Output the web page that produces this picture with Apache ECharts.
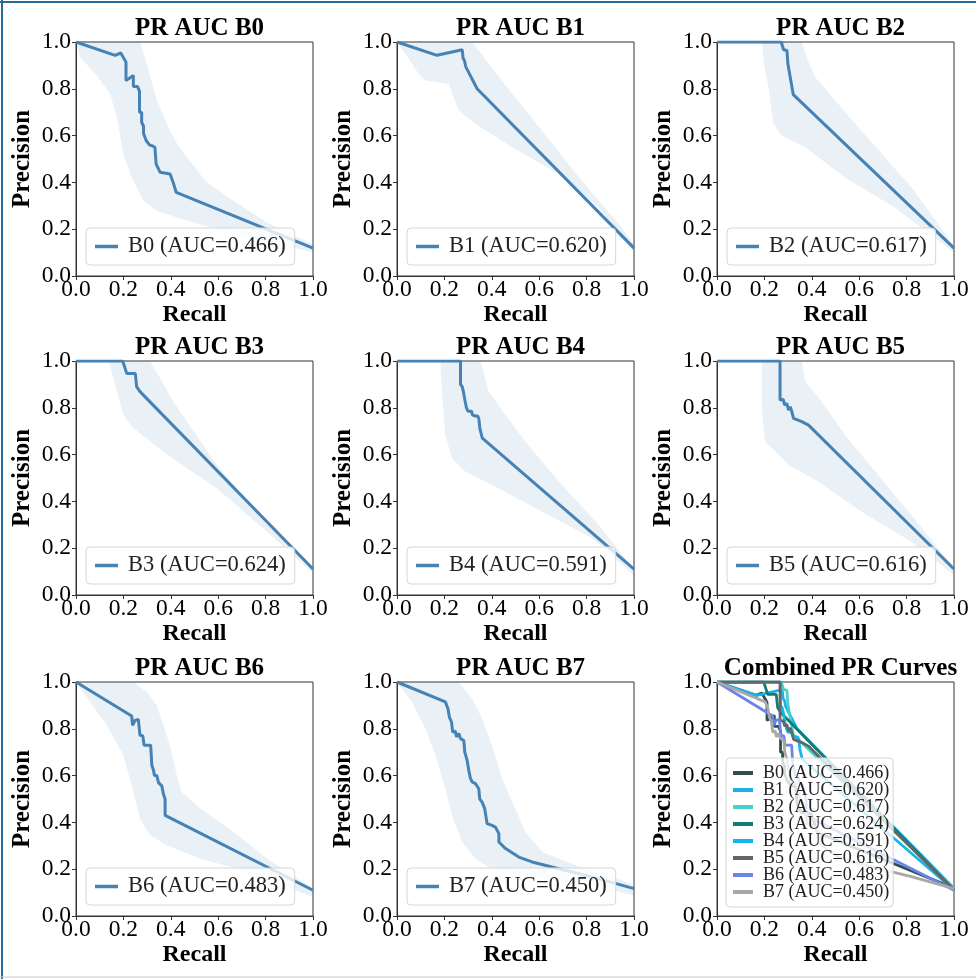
<!DOCTYPE html>
<html>
<head>
<meta charset="utf-8">
<script src="https://cdn.jsdelivr.net/npm/echarts@6/dist/echarts.min.js"></script>
<style>
html,body{margin:0;padding:0;background:#fff;}
#chart{width:976px;height:979px;}
</style>
</head>
<body>
<div id="chart"></div>
<script>
// ---------------- data ----------------
const modelNames = ['B0','B1','B2','B3','B4','B5','B6','B7'];
const aucValues = ['0.466','0.620','0.617','0.624','0.591','0.616','0.483','0.450'];
const tickLabels = ['0.0','0.2','0.4','0.6','0.8','1.0'];

// mean PR curves [recall, precision]
const b0Curve = [[0,1],[0.165,0.943],[0.189,0.953],[0.211,0.914],[0.211,0.836],[0.222,0.843],[0.242,0.857],[0.242,0.81],[0.259,0.81],[0.268,0.79],[0.268,0.70],[0.277,0.70],[0.277,0.657],[0.285,0.64],[0.285,0.609],[0.296,0.579],[0.31,0.56],[0.32,0.557],[0.333,0.55],[0.338,0.479],[0.355,0.443],[0.397,0.436],[0.41,0.40],[0.423,0.357],[1,0.119]];
const b1Curve = [[0,1],[0.169,0.943],[0.275,0.967],[0.279,0.93],[0.285,0.92],[0.29,0.895],[0.338,0.8],[1,0.119]];
const b2Curve = [[0,1],[0.271,1],[0.281,0.967],[0.295,0.964],[0.299,0.907],[0.322,0.775],[1,0.119]];
const b3Curve = [[0,1],[0.197,1],[0.214,0.947],[0.25,0.947],[0.254,0.954],[0.256,0.89],[0.27,0.869],[1,0.111]];
const b4Curve = [[0,1],[0.268,1],[0.268,0.9],[0.275,0.89],[0.28,0.87],[0.285,0.87],[0.287,0.83],[0.293,0.8],[0.3,0.785],[0.315,0.785],[0.318,0.77],[0.33,0.765],[0.34,0.765],[0.345,0.755],[0.35,0.71],[0.36,0.67],[1,0.111]];
const b5Curve = [[0,1],[0.266,1],[0.266,0.833],[0.274,0.826],[0.28,0.835],[0.285,0.812],[0.295,0.818],[0.302,0.79],[0.309,0.805],[0.316,0.783],[0.323,0.755],[0.358,0.741],[0.386,0.726],[0.4,0.712],[1,0.111]];
const b6Curve = [[0,1],[0.235,0.855],[0.239,0.815],[0.249,0.836],[0.263,0.84],[0.27,0.772],[0.282,0.77],[0.287,0.73],[0.303,0.73],[0.315,0.73],[0.32,0.644],[0.327,0.623],[0.331,0.6],[0.341,0.6],[0.348,0.57],[0.362,0.556],[0.369,0.521],[0.376,0.499],[0.376,0.43],[1,0.11]];
const b7Curve = [[0,1],[0.204,0.915],[0.215,0.886],[0.221,0.85],[0.23,0.829],[0.235,0.786],[0.246,0.79],[0.251,0.765],[0.261,0.78],[0.268,0.758],[0.282,0.75],[0.286,0.7],[0.296,0.665],[0.303,0.622],[0.31,0.587],[0.317,0.573],[0.331,0.566],[0.345,0.544],[0.349,0.501],[0.359,0.487],[0.37,0.459],[0.38,0.395],[0.401,0.387],[0.415,0.38],[0.43,0.352],[0.43,0.316],[0.458,0.288],[0.514,0.252],[0.57,0.231],[0.683,0.202],[0.824,0.167],[1,0.117]];

// confidence band bounds [recall, precision]
const b0Upper = [[0,1],[0.27,1],[0.30,0.9],[0.341,0.75],[0.397,0.621],[0.43,0.56],[0.468,0.507],[0.552,0.4],[0.665,0.321],[0.806,0.229],[1,0.136]];
const b0Lower = [[0,1],[0.017,0.936],[0.087,0.857],[0.144,0.779],[0.172,0.679],[0.2,0.521],[0.235,0.421],[0.285,0.321],[0.341,0.279],[0.425,0.25],[0.594,0.2],[0.806,0.15],[1,0.1]];
const b1Upper = [[0,1],[0.317,1],[0.43,0.85],[0.6,0.636],[0.768,0.421],[0.937,0.221],[1,0.136]];
const b1Lower = [[0,1],[0.035,0.95],[0.092,0.864],[0.12,0.836],[0.218,0.821],[0.239,0.764],[0.26,0.707],[0.331,0.65],[0.486,0.55],[0.683,0.436],[0.852,0.293],[1,0.1]];
const b2Upper = [[0,1],[0.358,1],[0.38,0.93],[0.414,0.85],[0.596,0.636],[0.82,0.379],[1,0.129]];
const b2Lower = [[0,1],[0.189,1],[0.2,0.9],[0.217,0.807],[0.238,0.65],[0.273,0.6],[0.372,0.55],[0.54,0.421],[0.75,0.293],[1,0.1]];
const b3Upper = [[0,1],[0.313,1],[0.411,0.826],[0.594,0.556],[0.806,0.3],[1,0.12]];
const b3Lower = [[0,1],[0.137,1],[0.158,0.926],[0.2,0.77],[0.235,0.72],[0.383,0.6],[0.594,0.456],[0.806,0.27],[1,0.093]];
const b4Upper = [[0,1],[0.352,1],[0.387,0.869],[0.458,0.769],[0.542,0.655],[0.683,0.484],[0.852,0.299],[1,0.108]];
const b4Lower = [[0,1],[0.183,1],[0.19,0.869],[0.204,0.684],[0.232,0.584],[0.289,0.527],[0.401,0.47],[0.613,0.356],[0.824,0.242],[1,0.085]];
const b5Upper = [[0,1],[0.358,1],[0.372,0.912],[0.442,0.826],[0.54,0.684],[0.68,0.513],[0.82,0.342],[1,0.114]];
const b5Lower = [[0,1],[0.189,1],[0.189,0.798],[0.203,0.655],[0.245,0.613],[0.302,0.556],[0.428,0.484],[0.61,0.356],[0.82,0.228],[1,0.085]];
const b6Upper = [[0,1],[0.242,1],[0.299,0.957],[0.341,0.9],[0.397,0.729],[0.425,0.601],[0.446,0.53],[0.524,0.459],[0.665,0.359],[0.806,0.245],[1,0.117]];
const b6Lower = [[0,1],[0.059,0.915],[0.13,0.815],[0.2,0.687],[0.235,0.558],[0.27,0.416],[0.313,0.345],[0.383,0.302],[0.524,0.245],[0.735,0.188],[1,0.081]];
const b7Upper = [[0,1],[0.26,1],[0.317,0.929],[0.359,0.843],[0.401,0.729],[0.444,0.587],[0.486,0.487],[0.542,0.359],[0.613,0.274],[0.754,0.217],[0.894,0.174],[1,0.131]];
const b7Lower = [[0,1],[0.063,0.915],[0.12,0.8],[0.162,0.687],[0.204,0.544],[0.232,0.43],[0.275,0.316],[0.331,0.245],[0.401,0.2],[0.6,0.165],[0.824,0.131],[1,0.088]];

const curves = [b0Curve,b1Curve,b2Curve,b3Curve,b4Curve,b5Curve,b6Curve,b7Curve];
const uppers = [b0Upper,b1Upper,b2Upper,b3Upper,b4Upper,b5Upper,b6Upper,b7Upper];
const lowers = [b0Lower,b1Lower,b2Lower,b3Lower,b4Lower,b5Lower,b6Lower,b7Lower];
const combinedColors = ['#2f4f4f','#1ab2e6','#48d1cc','#137d72','#12b8ea','#666666','#6b84e8','#a8a8a8'];

// ---------------- layout / style ----------------
const FONT = "'Liberation Serif','Times New Roman',serif";
const colLeft = [76, 397, 717];
const rowTop = [42, 361, 682];
const plotW = 237, plotH = 234;
const lineColor = '#4682b4';
const bandColor = 'rgba(70,130,180,0.12)';
const spine = '#333';

const grids = [], xAxes = [], yAxes = [], titles = [], legends = [], series = [];
const labelOf = i => modelNames[i] + ' (AUC=' + aucValues[i] + ')';

for (let p = 0; p < 9; p++) {
  const r = Math.floor(p / 3), c = p % 3;
  grids.push({left: colLeft[c], top: rowTop[r], width: plotW, height: plotH,
    show: true, borderColor: spine, borderWidth: 1, backgroundColor: 'transparent'});
  xAxes.push({type: 'value', gridIndex: p, min: 0, max: 1, interval: 0.2,
    name: 'Recall', nameLocation: 'middle', nameGap: 25,
    nameTextStyle: {fontFamily: FONT, fontSize: 24, fontWeight: 'bold', color: '#000'},
    axisLine: {show: true, onZero: false, lineStyle: {color: spine}},
    axisTick: {show: true, length: 4, lineStyle: {color: spine}},
    axisLabel: {fontFamily: FONT, fontSize: 23.5, color: '#000', margin: 2,
      formatter: v => tickLabels[Math.round(v * 5)]},
    splitLine: {show: false}});
  yAxes.push({type: 'value', gridIndex: p, min: 0, max: 1, interval: 0.2,
    name: 'Precision', nameLocation: 'middle', nameGap: 41,
    nameTextStyle: {fontFamily: FONT, fontSize: 25, fontWeight: 'bold', color: '#000'},
    axisLine: {show: true, onZero: false, lineStyle: {color: spine}},
    axisTick: {show: true, length: 4, lineStyle: {color: spine}},
    axisLabel: {fontFamily: FONT, fontSize: 23.5, color: '#000', margin: 5,
      formatter: v => tickLabels[Math.round(v * 5)]},
    splitLine: {show: false}});
  titles.push({text: p < 8 ? 'PR AUC ' + modelNames[p] : 'Combined PR Curves',
    left: colLeft[c] + plotW / 2, textAlign: 'center', top: rowTop[r] - 31,
    textStyle: {fontFamily: FONT, fontSize: 25, fontWeight: 'bold', color: '#000'}});
}

function bandRenderer(poly) {
  return function (params, api) {
    if (params.dataIndex !== 0) return null;
    const pts = poly.map(pt => api.coord(pt));
    return {type: 'polygon', shape: {points: pts}, style: {fill: bandColor}};
  };
}

for (let i = 0; i < 8; i++) {
  const r = Math.floor(i / 3), c = i % 3;
  const poly = uppers[i].concat(lowers[i].slice().reverse());
  series.push({type: 'custom', name: 'band' + i, xAxisIndex: i, yAxisIndex: i,
    data: poly, renderItem: bandRenderer(poly), silent: true, z: 1});
  series.push({type: 'line', name: labelOf(i), xAxisIndex: i, yAxisIndex: i,
    data: curves[i], showSymbol: false, symbol: 'none', z: 2,
    lineStyle: {color: lineColor, width: 3}, itemStyle: {color: lineColor}});
  legends.push({data: [labelOf(i)], left: colLeft[c] + 10, top: rowTop[r] + 186, z: 10,
    orient: 'horizontal', icon: 'rect', itemWidth: 23, itemHeight: 3.5,
    padding: [7, 9, 7, 9], backgroundColor: 'rgba(255,255,255,0.8)',
    borderColor: '#d6d6d6', borderWidth: 1, borderRadius: 4, selectedMode: false,
    textStyle: {fontFamily: FONT, fontSize: 22.5, color: '#222', padding: [0, 0, 0, 5]}});
}

// combined
const combNames = [];
for (let i = 0; i < 8; i++) {
  const nm = 'comb-' + modelNames[i];
  combNames.push(nm);
  series.push({type: 'line', name: nm, xAxisIndex: 8, yAxisIndex: 8,
    data: curves[i], showSymbol: false, symbol: 'none', z: 2,
    lineStyle: {color: combinedColors[i], width: 2.8}, itemStyle: {color: combinedColors[i]}});
}
legends.push({data: combNames, left: 726, top: 758, z: 10, orient: 'vertical',
  icon: 'rect', itemWidth: 20, itemHeight: 4, itemGap: -1,
  padding: [6, 4, 6, 7], backgroundColor: 'rgba(255,255,255,0.8)',
  borderColor: '#d6d6d6', borderWidth: 1, borderRadius: 4, selectedMode: false,
  formatter: nm => labelOf(combNames.indexOf(nm)),
  textStyle: {fontFamily: FONT, fontSize: 18, lineHeight: 17, color: '#222', padding: [0, 0, 0, 5]}});

const option = {
  animation: false,
  backgroundColor: '#fff',
  title: titles,
  grid: grids,
  xAxis: xAxes,
  yAxis: yAxes,
  legend: legends,
  series: series,
  graphic: [
    {type: 'line', shape: {x1: 0, y1: 2, x2: 976, y2: 2}, style: {stroke: '#2a6a96', lineWidth: 2}, z: 100},
    {type: 'line', shape: {x1: 2, y1: 0, x2: 2, y2: 979}, style: {stroke: '#2a6a96', lineWidth: 2}, z: 100},
    {type: 'line', shape: {x1: 0, y1: 977, x2: 976, y2: 977}, style: {stroke: '#cccccc', lineWidth: 1}, z: 100}
  ]
};

const chart = echarts.init(document.getElementById('chart'), null, {renderer: 'canvas'});
chart.setOption(option);
</script>
</body>
</html>
